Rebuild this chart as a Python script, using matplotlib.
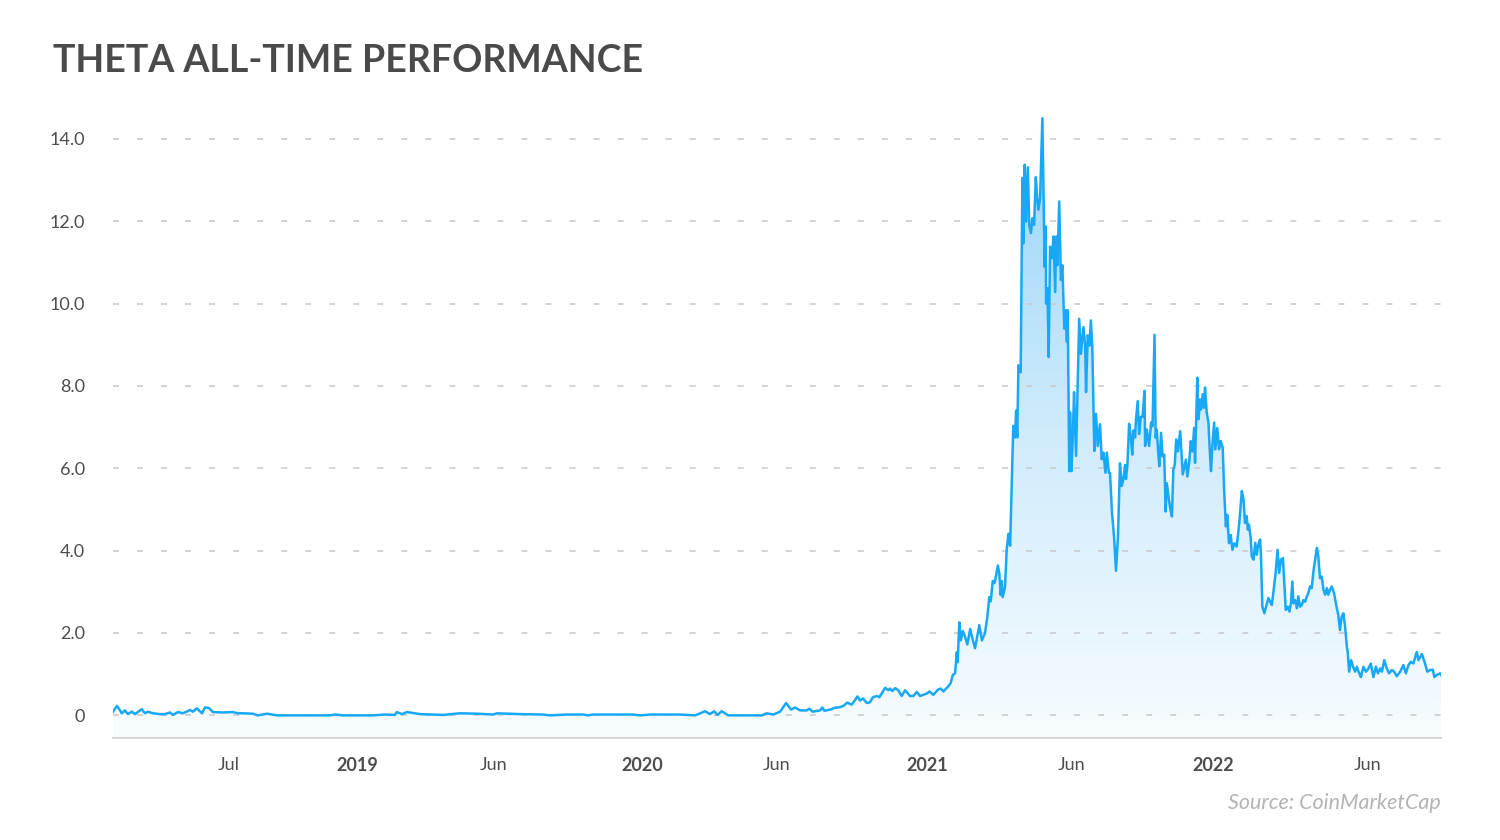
import matplotlib
matplotlib.use("Agg")
import matplotlib.pyplot as plt
import numpy as np
from matplotlib.colors import LinearSegmentedColormap

# THETA price (USD), x as decimal year
early_t = [2018.145, 2018.159, 2018.176, 2018.187, 2018.197, 2018.211, 2018.222, 2018.246, 2018.257, 2018.267,
           2018.285, 2018.310, 2018.327, 2018.345, 2018.355, 2018.373, 2018.390, 2018.415, 2018.425, 2018.439,
           2018.457, 2018.467, 2018.481, 2018.495, 2018.530, 2018.565, 2018.583, 2018.600, 2018.635, 2018.653,
           2018.685, 2018.720, 2018.881, 2018.905, 2018.923, 2018.951, 2019.000, 2019.056, 2019.098, 2019.133,
           2019.140, 2019.158, 2019.175, 2019.221, 2019.301, 2019.361, 2019.421, 2019.477, 2019.491, 2019.571,
           2019.652, 2019.676, 2019.736, 2019.792, 2019.810, 2019.827, 2019.964, 2019.995, 2020.027, 2020.080]
early_v = [0.09, 0.23, 0.05, 0.12, 0.03, 0.09, 0.03, 0.15, 0.05, 0.09,
           0.05, 0.03, 0.03, 0.07, 0.01, 0.08, 0.05, 0.13, 0.09, 0.17,
           0.05, 0.19, 0.18, 0.08, 0.07, 0.08, 0.05, 0.05, 0.04, 0.0,
           0.04, 0.0, 0.0, 0.0, 0.02, 0.0, 0.0, 0.0, 0.02, 0.01,
           0.08, 0.03, 0.08, 0.03, 0.01, 0.05, 0.04, 0.02, 0.05, 0.03,
           0.02, 0.0, 0.02, 0.02, 0.0, 0.02, 0.02, 0.0, 0.02, 0.02]

rise_t = [2020.132, 2020.185, 2020.196, 2020.220, 2020.237, 2020.252, 2020.263, 2020.278, 2020.301, 2020.342,
          2020.419, 2020.436, 2020.459, 2020.483, 2020.504, 2020.521, 2020.535, 2020.553, 2020.576, 2020.585,
          2020.597, 2020.623, 2020.631, 2020.638, 2020.664, 2020.672, 2020.693, 2020.705, 2020.718, 2020.734,
          2020.754, 2020.763, 2020.773, 2020.787, 2020.798, 2020.808, 2020.822, 2020.831, 2020.851, 2020.862,
          2020.868, 2020.876, 2020.886, 2020.897, 2020.909, 2020.921, 2020.938, 2020.950, 2020.962, 2020.973,
          2020.997, 2021.006, 2021.020, 2021.037, 2021.046, 2021.055, 2021.073, 2021.081, 2021.088, 2021.096,
          2021.102, 2021.105, 2021.111, 2021.116, 2021.123, 2021.131, 2021.139, 2021.149, 2021.157, 2021.166,
          2021.172, 2021.181, 2021.190, 2021.201, 2021.209, 2021.216, 2021.221, 2021.228, 2021.234, 2021.240,
          2021.246, 2021.251, 2021.256, 2021.260, 2021.263, 2021.271, 2021.277, 2021.283, 2021.289]
rise_v = [0.02, 0.0, 0.03, 0.10, 0.03, 0.10, 0.01, 0.10, 0.0, 0.0,
          0.0, 0.05, 0.02, 0.09, 0.30, 0.14, 0.19, 0.12, 0.12, 0.16,
          0.09, 0.12, 0.19, 0.11, 0.15, 0.18, 0.20, 0.23, 0.31, 0.26,
          0.46, 0.36, 0.41, 0.30, 0.32, 0.44, 0.47, 0.44, 0.67, 0.61,
          0.65, 0.59, 0.66, 0.61, 0.47, 0.61, 0.47, 0.47, 0.57, 0.47,
          0.53, 0.58, 0.50, 0.63, 0.65, 0.58, 0.71, 0.79, 0.98, 1.02,
          1.53, 1.29, 2.26, 1.82, 2.05, 1.91, 1.72, 2.10, 1.86, 1.63,
          1.86, 2.19, 1.82, 2.00, 2.39, 2.87, 2.77, 3.26, 3.21, 3.40,
          3.64, 3.45, 2.92, 3.26, 2.87, 3.11, 4.03, 4.41, 4.12]

peak_t = [2021.300, 2021.306, 2021.310, 2021.314, 2021.318, 2021.326, 2021.332, 2021.335, 2021.340, 2021.345,
          2021.351, 2021.356, 2021.362, 2021.367, 2021.373, 2021.379, 2021.384, 2021.388, 2021.394, 2021.402,
          2021.408, 2021.410, 2021.414, 2021.415, 2021.420, 2021.424, 2021.429, 2021.435, 2021.441, 2021.447,
          2021.450, 2021.455, 2021.461, 2021.467, 2021.472, 2021.476, 2021.479, 2021.484, 2021.488, 2021.491,
          2021.496, 2021.499, 2021.504, 2021.509, 2021.513, 2021.520, 2021.531, 2021.537, 2021.546, 2021.552,
          2021.555, 2021.561, 2021.567, 2021.572, 2021.577, 2021.584, 2021.590, 2021.596, 2021.604, 2021.610,
          2021.616, 2021.623, 2021.628, 2021.635, 2021.639, 2021.646]
peak_v = [7.03, 6.75, 7.40, 6.75, 8.50, 8.33, 13.05, 11.46, 13.37, 11.99,
          13.31, 11.91, 11.71, 12.07, 11.91, 13.07, 12.56, 12.28, 12.56, 14.50,
          11.87, 10.89, 11.87, 10.00, 10.37, 8.70, 11.38, 11.10, 11.63, 10.28,
          11.63, 10.93, 12.48, 10.57, 10.93, 10.04, 9.39, 9.84, 9.07, 9.84,
          5.93, 7.36, 5.93, 6.87, 7.85, 6.30, 9.63, 8.78, 9.43, 8.98,
          7.85, 9.23, 8.98, 9.59, 8.94, 6.42, 7.32, 6.54, 7.07, 6.22,
          6.38, 5.89, 6.38, 5.89, 5.89, 4.92]

late_t = [2021.653, 2021.660, 2021.667, 2021.674, 2021.680, 2021.686, 2021.692, 2021.695, 2021.700, 2021.706,
          2021.712, 2021.717, 2021.721, 2021.727, 2021.730, 2021.736, 2021.741, 2021.747, 2021.753, 2021.760,
          2021.762, 2021.768, 2021.776, 2021.783, 2021.788, 2021.795, 2021.799, 2021.803, 2021.808, 2021.812,
          2021.818, 2021.823, 2021.829, 2021.834, 2021.838, 2021.844, 2021.850, 2021.856, 2021.861, 2021.866,
          2021.871, 2021.877, 2021.885, 2021.894, 2021.905, 2021.910, 2021.917, 2021.922, 2021.928, 2021.934,
          2021.937, 2021.945, 2021.949, 2021.955, 2021.958, 2021.964, 2021.969, 2021.972, 2021.978, 2021.984,
          2021.990, 2021.993, 2021.998, 2022.004, 2022.008, 2022.015, 2022.021, 2022.027, 2022.034, 2022.039,
          2022.045, 2022.050, 2022.056, 2022.062, 2022.068, 2022.075, 2022.083, 2022.092, 2022.101, 2022.107,
          2022.112, 2022.118, 2022.122, 2022.126, 2022.132, 2022.136, 2022.142, 2022.148, 2022.153, 2022.159,
          2022.165, 2022.168, 2022.173, 2022.180, 2022.189, 2022.194, 2022.200, 2022.206, 2022.212, 2022.220,
          2022.226, 2022.232, 2022.238, 2022.245, 2022.250, 2022.255, 2022.262, 2022.268, 2022.273, 2022.278,
          2022.282, 2022.288, 2022.294, 2022.299, 2022.305, 2022.311, 2022.317, 2022.323, 2022.329, 2022.334,
          2022.340, 2022.346, 2022.352, 2022.358, 2022.364, 2022.369, 2022.375, 2022.381, 2022.387, 2022.393,
          2022.399, 2022.404, 2022.410, 2022.416, 2022.424, 2022.434, 2022.439, 2022.445, 2022.451, 2022.457,
          2022.463, 2022.469, 2022.472, 2022.477, 2022.484, 2022.492, 2022.498, 2022.504, 2022.510, 2022.518,
          2022.527, 2022.536, 2022.545, 2022.553, 2022.562, 2022.571, 2022.578, 2022.586, 2022.592, 2022.600,
          2022.609, 2022.617, 2022.627, 2022.635, 2022.644, 2022.656, 2022.667, 2022.676, 2022.685, 2022.693,
          2022.702, 2022.714, 2022.720, 2022.732, 2022.743, 2022.751, 2022.761, 2022.770, 2022.776, 2022.784,
          2022.796, 2022.799]
late_v = [4.35, 3.51, 4.35, 6.12, 5.57, 5.74, 6.08, 5.74, 6.08, 7.08,
          6.75, 6.33, 6.92, 6.75, 7.17, 7.63, 6.83, 7.25, 7.25, 7.88,
          6.54, 6.94, 6.54, 7.11, 7.02, 9.24, 6.74, 6.94, 6.37, 6.05,
          6.86, 6.29, 6.33, 4.95, 5.64, 5.32, 5.03, 4.83, 5.97, 6.09,
          6.70, 6.41, 6.90, 5.85, 6.21, 5.80, 6.17, 6.66, 6.41, 6.98,
          6.13, 8.20, 7.19, 7.67, 7.43, 7.80, 7.47, 7.96, 7.35, 7.11,
          6.25, 5.93, 6.58, 7.11, 6.46, 6.98, 6.46, 6.66, 6.50, 5.48,
          4.59, 4.87, 4.18, 4.38, 4.02, 4.18, 4.10, 4.67, 5.45, 5.24,
          4.67, 4.84, 4.51, 4.63, 4.31, 3.86, 3.78, 4.19, 3.90, 4.15,
          4.27, 3.90, 2.64, 2.48, 2.72, 2.85, 2.76, 2.68, 3.01, 3.50,
          4.02, 3.46, 3.78, 3.82, 3.21, 2.56, 2.64, 2.52, 2.72, 3.25,
          2.72, 2.80, 2.60, 2.89, 2.64, 2.68, 2.80, 2.76, 2.89, 2.97,
          3.13, 3.09, 3.50, 3.78, 4.07, 3.86, 3.33, 3.37, 3.05, 2.93,
          3.09, 2.93, 3.05, 3.13, 2.97, 2.60, 2.44, 2.07, 2.40, 2.48,
          2.15, 1.67, 1.54, 1.06, 1.34, 1.16, 1.06, 1.18, 1.06, 0.93,
          1.18, 1.06, 1.14, 1.26, 0.93, 1.18, 1.02, 1.14, 1.06, 1.34,
          1.14, 1.02, 1.10, 1.06, 0.95, 1.06, 1.22, 1.02, 1.22, 1.30,
          1.26, 1.54, 1.34, 1.49, 1.26, 1.06, 1.10, 1.11, 0.93, 0.98,
          1.02, 0.98]

tick_pos = [2018.551, 2019.0, 2019.480, 2020.0, 2020.472, 2021.0, 2021.503, 2022.0, 2022.540]
tick_labels = ["Jul", "2019", "Jun", "2020", "Jun", "2021", "Jun", "2022", "Jun"]
y_ticks = [0, 2, 4, 6, 8, 10, 12, 14]
y_labels = ["0", "2.0", "4.0", "6.0", "8.0", "10.0", "12.0", "14.0"]

t = np.array(early_t + rise_t + peak_t + late_t)
v = np.array(early_v + rise_v + peak_v + late_v)

plt.rcParams['font.family'] = ['Lato', 'DejaVu Sans']
plt.rcParams['lines.scale_dashes'] = False

fig = plt.figure(figsize=(15, 8.4), dpi=100)
ax = fig.add_axes([113 / 1500, 102 / 840, 1328 / 1500, 642 / 840])
ybottom = -0.55
ax.set_xlim(2018.145, 2022.799)
ax.set_ylim(ybottom, 15.04)

# gradient fill under the line
poly = ax.fill_between(t, v, ybottom, facecolor='none', edgecolor='none')
cmap = LinearSegmentedColormap.from_list('fade', ['#f7fcff', '#cfebfc', '#98d5f6'])
grad = np.linspace(0, 1, 256).reshape(-1, 1)
im = ax.imshow(grad, cmap=cmap, origin='lower', aspect='auto',
               extent=[t.min(), t.max(), ybottom, v.max()], zorder=1)
im.set_clip_path(poly.get_paths()[0], transform=ax.transData)

ax.grid(axis='y', color='#c8c8c8', linewidth=1.1, linestyle=(0, (4.3, 13)), zorder=2)
ax.set_axisbelow(False)
ax.plot(t, v, color='#18a8f5', linewidth=1.8, zorder=3)

ax.set_xticks(tick_pos)
ax.set_xticklabels(tick_labels)
for lbl in ax.get_xticklabels():
    if lbl.get_text().isdigit():
        lbl.set_fontweight('bold')
ax.set_yticks(y_ticks)
ax.set_yticklabels(y_labels)
ax.tick_params(axis='both', length=0, labelsize=13, labelcolor='#4d4d4d')
ax.tick_params(axis='x', pad=14)
ax.tick_params(axis='y', pad=20)
for s in ['top', 'right', 'left']:
    ax.spines[s].set_visible(False)
ax.spines['bottom'].set_color('#d6d6d6')
ax.spines['bottom'].set_linewidth(1.5)

fig.text(53 / 1500, 1 - 61 / 840, 'THETA ALL-TIME PERFORMANCE', va='center', ha='left',
         fontsize=27, fontweight='bold', color='#4a4a4a')
fig.text(1441 / 1500, 1 - 803 / 840, 'Source: CoinMarketCap', va='center', ha='right',
         fontsize=15.5, style='italic', color='#b3b3b3')

fig.savefig('out.png', dpi=100)
